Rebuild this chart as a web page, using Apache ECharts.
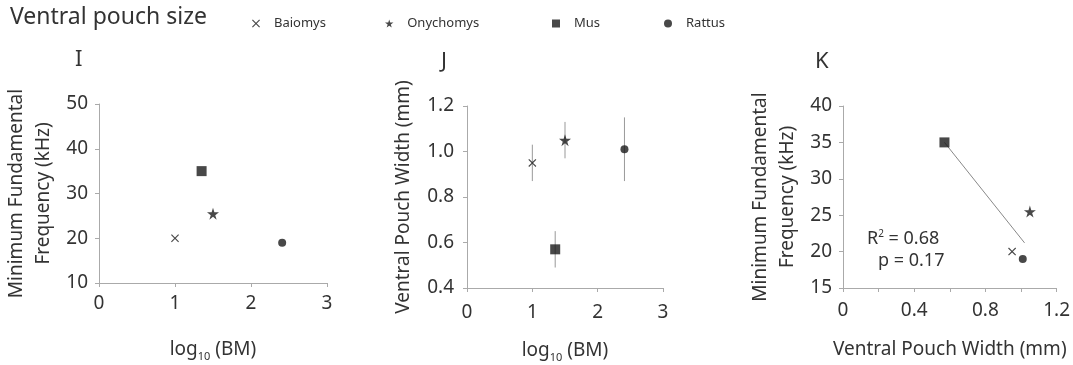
<!DOCTYPE html>
<html>
<head>
<meta charset="utf-8">
<script src="https://cdn.jsdelivr.net/npm/echarts@6/dist/echarts.min.js"></script>
<style>
html, body { margin: 0; padding: 0; background: #fff; }
#main { width: 1073px; height: 365px; }
</style>
</head>
<body>
<div id="main"></div>
<script>
var species = ['Baiomys', 'Onychomys', 'Mus', 'Rattus'];
var logBM = [1.0, 1.5, 1.35, 2.41];
var minFreq = [20, 25.5, 35, 19];
var pouchWidth = [0.95, 1.05, 0.57, 1.01];
var pouchErr = [0.08, 0.08, 0.08, 0.14];
var trendK = [[0.57, 35], [1.02, 21.2]];

var FONT = 'Noto Sans';
var TXT = '#333';
var AX = '#aaa';
var MK = '#1a1a1a';

var crossPath = 'path://M0,1L1,0L5,4L9,0L10,1L6,5L10,9L9,10L5,6L1,10L0,9L4,5Z';
var starPath = 'path://M50,0L61,35L98,35L68,57L79,91L50,70L21,91L32,57L2,35L39,35Z';
var squarePath = 'path://M0,0L10,0L10,10L0,10Z';
var symbols = [crossPath, starPath, squarePath, 'circle'];
var sizes = [8, 12, 10, 8];

var chart = echarts.init(document.getElementById('main'));

function xAx(grid, min, max, interval, name, gap, margin, fmt) {
	return {
		type: 'value', gridIndex: grid, min: min, max: max, interval: interval,
		name: name, nameLocation: 'middle', nameGap: gap,
		nameTextStyle: {
			fontFamily: FONT, fontSize: 19, color: TXT,
			rich: { s: { fontFamily: FONT, fontSize: 11, color: TXT, padding: [14, 0, 0, 0] } }
		},
		axisLine: { lineStyle: { color: AX } },
		axisTick: { show: true, length: 4, lineStyle: { color: AX } },
		axisLabel: { fontFamily: FONT, fontSize: 19, color: TXT, margin: margin, formatter: fmt },
		splitLine: { show: false }
	};
}
function yAx(grid, min, max, interval, name, gap, margin, fmt) {
	return {
		type: 'value', gridIndex: grid, min: min, max: max, interval: interval,
		name: name, nameLocation: 'middle', nameGap: gap, nameRotate: 90,
		nameTextStyle: { fontFamily: FONT, fontSize: 19, color: TXT, lineHeight: 27, align: 'center' },
		axisLine: { show: true, lineStyle: { color: AX } },
		axisTick: { show: true, length: 4, lineStyle: { color: AX } },
		axisLabel: { fontFamily: FONT, fontSize: 19, color: TXT, margin: margin, formatter: fmt },
		splitLine: { show: false }
	};
}

var series = [];
species.forEach(function(s, i) {
	var common = {
		name: s, type: 'scatter', symbol: symbols[i], symbolSize: sizes[i],
		itemStyle: { color: MK }, z: 5
	};
	series.push(Object.assign({}, common, { xAxisIndex: 0, yAxisIndex: 0, data: [[logBM[i], minFreq[i]]] }));
	series.push(Object.assign({}, common, { xAxisIndex: 1, yAxisIndex: 1, data: [[logBM[i], pouchWidth[i]]] }));
	series.push(Object.assign({}, common, { xAxisIndex: 2, yAxisIndex: 2, data: [[pouchWidth[i], minFreq[i]]] }));
});

series.push({
	type: 'custom', xAxisIndex: 1, yAxisIndex: 1, z: 2,
	data: species.map(function(s, i) {
		return [logBM[i], pouchWidth[i] - pouchErr[i], pouchWidth[i] + pouchErr[i]];
	}),
	encode: { x: 0, y: [1, 2] },
	renderItem: function(params, api) {
		var p1 = api.coord([api.value(0), api.value(1)]);
		var p2 = api.coord([api.value(0), api.value(2)]);
		return {
			type: 'line',
			shape: { x1: p1[0], y1: p1[1], x2: p2[0], y2: p2[1] },
			style: { stroke: '#999', lineWidth: 1 }
		};
	}
});

series.push({
	type: 'line', xAxisIndex: 2, yAxisIndex: 2, z: 2,
	data: trendK, symbol: 'none',
	lineStyle: { color: '#888', width: 1 }
});

function leg(name, left) {
	return {
		data: [name], left: left, top: 12, itemWidth: 26, itemHeight: 8,
		selectedMode: false,
		textStyle: { fontFamily: FONT, fontSize: 13, color: TXT }
	};
}

var option = {
	animation: false,
	grid: [
		{ left: 99, top: 104, width: 228, height: 179 },
		{ left: 467, top: 106, width: 196, height: 182 },
		{ left: 843, top: 106, width: 215, height: 182 }
	],
	xAxis: [
		xAx(0, 0, 3, 1, 'log{s|10} (BM)', 54, 11),
		xAx(1, 0, 3, 1, 'log{s|10} (BM)', 50, 15),
		xAx(2, 0, 1.2, 0.2, 'Ventral Pouch Width (mm)', 52, 13, function(v) {
			var k = Math.round(v * 10);
			if (k % 4 !== 0) return '';
			return k === 0 ? '0' : (k / 10).toFixed(1);
		})
	],
	yAxis: [
		yAx(0, 10, 50, 10, 'Minimum Fundamental\nFrequency (kHz)', 42, 11),
		yAx(1, 0.4, 1.2, 0.2, 'Ventral Pouch Width (mm)', 50, 13, function(v) { return v.toFixed(1); }),
		yAx(2, 15, 40, 5, 'Minimum Fundamental\nFrequency (kHz)', 42, 11)
	],
	legend: [leg('Baiomys', 247), leg('Onychomys', 380), leg('Mus', 547), leg('Rattus', 659)],
	graphic: [
		{ type: 'text', left: 10, top: 6, style: { text: 'Ventral pouch size', fontFamily: FONT, fontSize: 23, fill: TXT } },
		{ type: 'text', left: 75, top: 49, style: { text: 'I', fontFamily: FONT, fontSize: 22, fill: TXT } },
		{ type: 'text', left: 441, top: 51, style: { text: 'J', fontFamily: FONT, fontSize: 22, fill: TXT } },
		{ type: 'text', left: 815, top: 51, style: { text: 'K', fontFamily: FONT, fontSize: 22, fill: TXT } },
		{ type: 'text', left: 867, top: 229, style: {
			text: 'R{p|2} = 0.68', fontFamily: FONT, fontSize: 18, fill: TXT,
			rich: { p: { fontFamily: FONT, fontSize: 10, fill: TXT, padding: [0, 0, 9, 0] } }
		} },
		{ type: 'text', left: 878, top: 252, style: { text: 'p = 0.17', fontFamily: FONT, fontSize: 18, fill: TXT } }
	],
	series: series
};
chart.setOption(option);
</script>
</body>
</html>
